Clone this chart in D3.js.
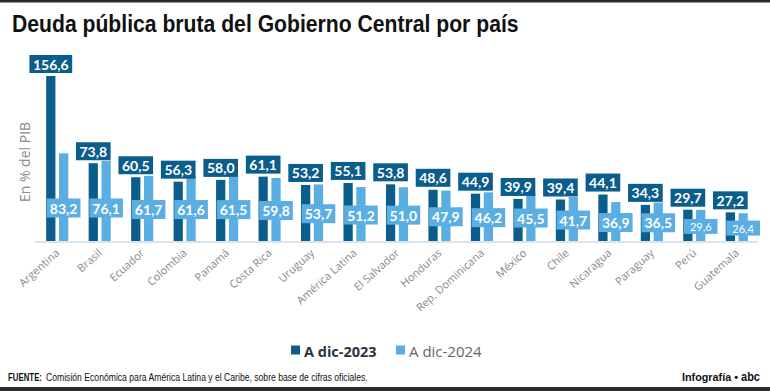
<!DOCTYPE html>
<html>
<head>
<meta charset="utf-8">
<script src="https://cdn.jsdelivr.net/npm/d3@7"></script>
<style>
  body { margin: 0; background: #fff; }
  svg { display: block; }
</style>
</head>
<body>
<div id="chart"></div>
<script>
const countries = ["Argentina", "Brasil", "Ecuador", "Colombia", "Panamá", "Costa Rica", "Uruguay",
  "América Latina", "El Salvador", "Honduras", "Rep. Dominicana", "México", "Chile",
  "Nicaragua", "Paraguay", "Perú", "Guatemala"];
const dic2023 = [156.6, 73.8, 60.5, 56.3, 58.0, 61.1, 53.2, 55.1, 53.8, 48.6, 44.9, 39.9, 39.4, 44.1, 34.3, 29.7, 27.2];
const dic2024 = [83.2, 76.1, 61.7, 61.6, 61.5, 59.8, 53.7, 51.2, 51.0, 47.9, 46.2, 45.5, 41.7, 36.9, 36.5, 29.6, 26.4];
const seriesNames = ["A dic-2023", "A dic-2024"];

const width = 770, height = 391;
const dark = "#0b5d8b", light = "#5aaee2";
const narrow = "Liberation Sans, Arial, sans-serif";

const svg = d3.select("#chart").append("svg")
  .attr("width", width).attr("height", height);

// squeeze a text horizontally so it spans `w` pixels (condensed look)
function squeezed(x, yPos, str, size, weight, w) {
  const t = svg.append("text")
    .attr("x", 0).attr("y", 0)
    .attr("font-family", narrow).attr("font-size", size)
    .attr("font-weight", weight).attr("fill", "#111")
    .text(str);
  const k = w / t.node().getComputedTextLength();
  t.attr("transform", `translate(${x},${yPos}) scale(${k},1)`);
  return t;
}

// top and bottom rules
svg.append("rect").attr("x", 0).attr("y", 0).attr("width", width).attr("height", 2.5).attr("fill", "#2b2b2b");
svg.append("rect").attr("x", 0).attr("y", 387).attr("width", width).attr("height", 4).attr("fill", "#2b2b2b");

squeezed(12, 32, "Deuda pública bruta del Gobierno Central por país", 24, "bold", 507);

const data = countries.map((c, i) => ({ country: c, values: [dic2023[i], dic2024[i]] }));

const x0 = d3.scaleBand().domain(countries).range([36, 758])
  .paddingInner(0.48).paddingOuter(0.24);
const x1 = d3.scaleBand().domain([0, 1]).range([0, x0.bandwidth()]).paddingInner(0.28);
const y = d3.scaleLinear().domain([0, 156.6]).range([241, 76]);

// y axis title
svg.append("text")
  .attr("transform", "translate(30,162) rotate(-90)")
  .attr("text-anchor", "middle")
  .attr("font-family", "Open Sans, sans-serif")
  .attr("font-size", 14).attr("fill", "#8a8a8a")
  .text("En % del PIB");

// baseline
svg.append("line")
  .attr("x1", 35).attr("x2", 758)
  .attr("y1", y(0) + 1).attr("y2", y(0) + 1)
  .attr("stroke", "#dde3e8").attr("stroke-width", 2);

const groups = svg.selectAll(".group").data(data).enter().append("g")
  .attr("class", "group")
  .attr("transform", d => `translate(${x0(d.country)},0)`);

groups.selectAll("rect.bar").data(d => d.values).enter().append("rect")
  .attr("class", "bar")
  .attr("x", (v, i) => x1(i))
  .attr("y", v => y(v))
  .attr("width", x1.bandwidth())
  .attr("height", v => y(0) - y(v))
  .attr("fill", (v, i) => i === 0 ? dark : light);

const fmt = v => d3.format(".1f")(v).replace(".", ",");

groups.each(function (d) {
  const g = d3.select(this);
  // 2023 label above the dark bar
  const cx1 = x1(0) + x1.bandwidth() / 2;
  const v1 = d.values[0];
  const lab1 = g.append("g");
  const t1 = lab1.append("text")
    .attr("x", cx1).attr("y", y(v1) - 12)
    .attr("text-anchor", "middle").attr("dominant-baseline", "central")
    .attr("font-family", "Lato, sans-serif").attr("font-weight", "bold")
    .attr("font-size", 14).attr("fill", "#fff")
    .text(fmt(v1));
  const w1 = t1.node().getComputedTextLength() + 7;
  lab1.insert("rect", "text")
    .attr("x", cx1 - w1 / 2).attr("y", y(v1) - 21)
    .attr("width", w1).attr("height", 18)
    .attr("fill", dark);

  // 2024 label over the light bar
  const cx2 = x1(1) + x1.bandwidth() / 2;
  const v2 = d.values[1];
  const small = v2 < 30;
  const cy2 = Math.max(208, (y(v2) + y(0)) / 2 + 1);
  const lab2 = g.append("g");
  const t2 = lab2.append("text")
    .attr("x", cx2).attr("y", cy2)
    .attr("text-anchor", "middle").attr("dominant-baseline", "central")
    .attr("font-family", "Lato, sans-serif").attr("font-weight", small ? "normal" : "bold")
    .attr("font-size", small ? 11 : 14).attr("fill", "#fff")
    .text(fmt(v2));
  const w2 = t2.node().getComputedTextLength() + (small ? 12 : 6);
  lab2.insert("rect", "text")
    .attr("x", cx2 - w2 / 2).attr("y", cy2 - (small ? 7.5 : 9.5))
    .attr("width", w2).attr("height", small ? 15 : 19)
    .attr("fill", light);
});

// category labels
svg.selectAll(".cat").data(countries).enter().append("text")
  .attr("class", "cat")
  .attr("transform", d => `translate(${x0(d) + x0.bandwidth() / 2 + 3},${y(0) + 13}) rotate(-42)`)
  .attr("text-anchor", "end")
  .attr("font-family", "Open Sans, sans-serif")
  .attr("font-size", 11).attr("fill", "#8a8a8a")
  .text(d => d);

// legend
const legend = svg.append("g").attr("transform", "translate(291,351)");
const legX = [0, 105];
seriesNames.forEach((name, i) => {
  legend.append("rect").attr("x", legX[i]).attr("y", -5.5).attr("width", 9).attr("height", 9)
    .attr("fill", i === 0 ? dark : light);
  legend.append("text")
    .attr("x", legX[i] + 13).attr("y", 0)
    .attr("dominant-baseline", "central")
    .attr("font-family", "Open Sans, sans-serif")
    .attr("font-weight", i === 0 ? "bold" : "normal")
    .attr("font-size", i === 0 ? 14.5 : 15)
    .attr("fill", i === 0 ? "#2a3540" : "#666")
    .text(name);
});

// footer
squeezed(8, 381, "FUENTE:", 11, "bold", 34);
squeezed(46, 381, "Comisión Económica para América Latina y el Caribe, sobre base de cifras oficiales.", 11, "normal", 322);
squeezed(682, 381, "Infografía •", 11, "bold", 56);
squeezed(741, 381, "abc", 12, "900", 19);
</script>
</body>
</html>
